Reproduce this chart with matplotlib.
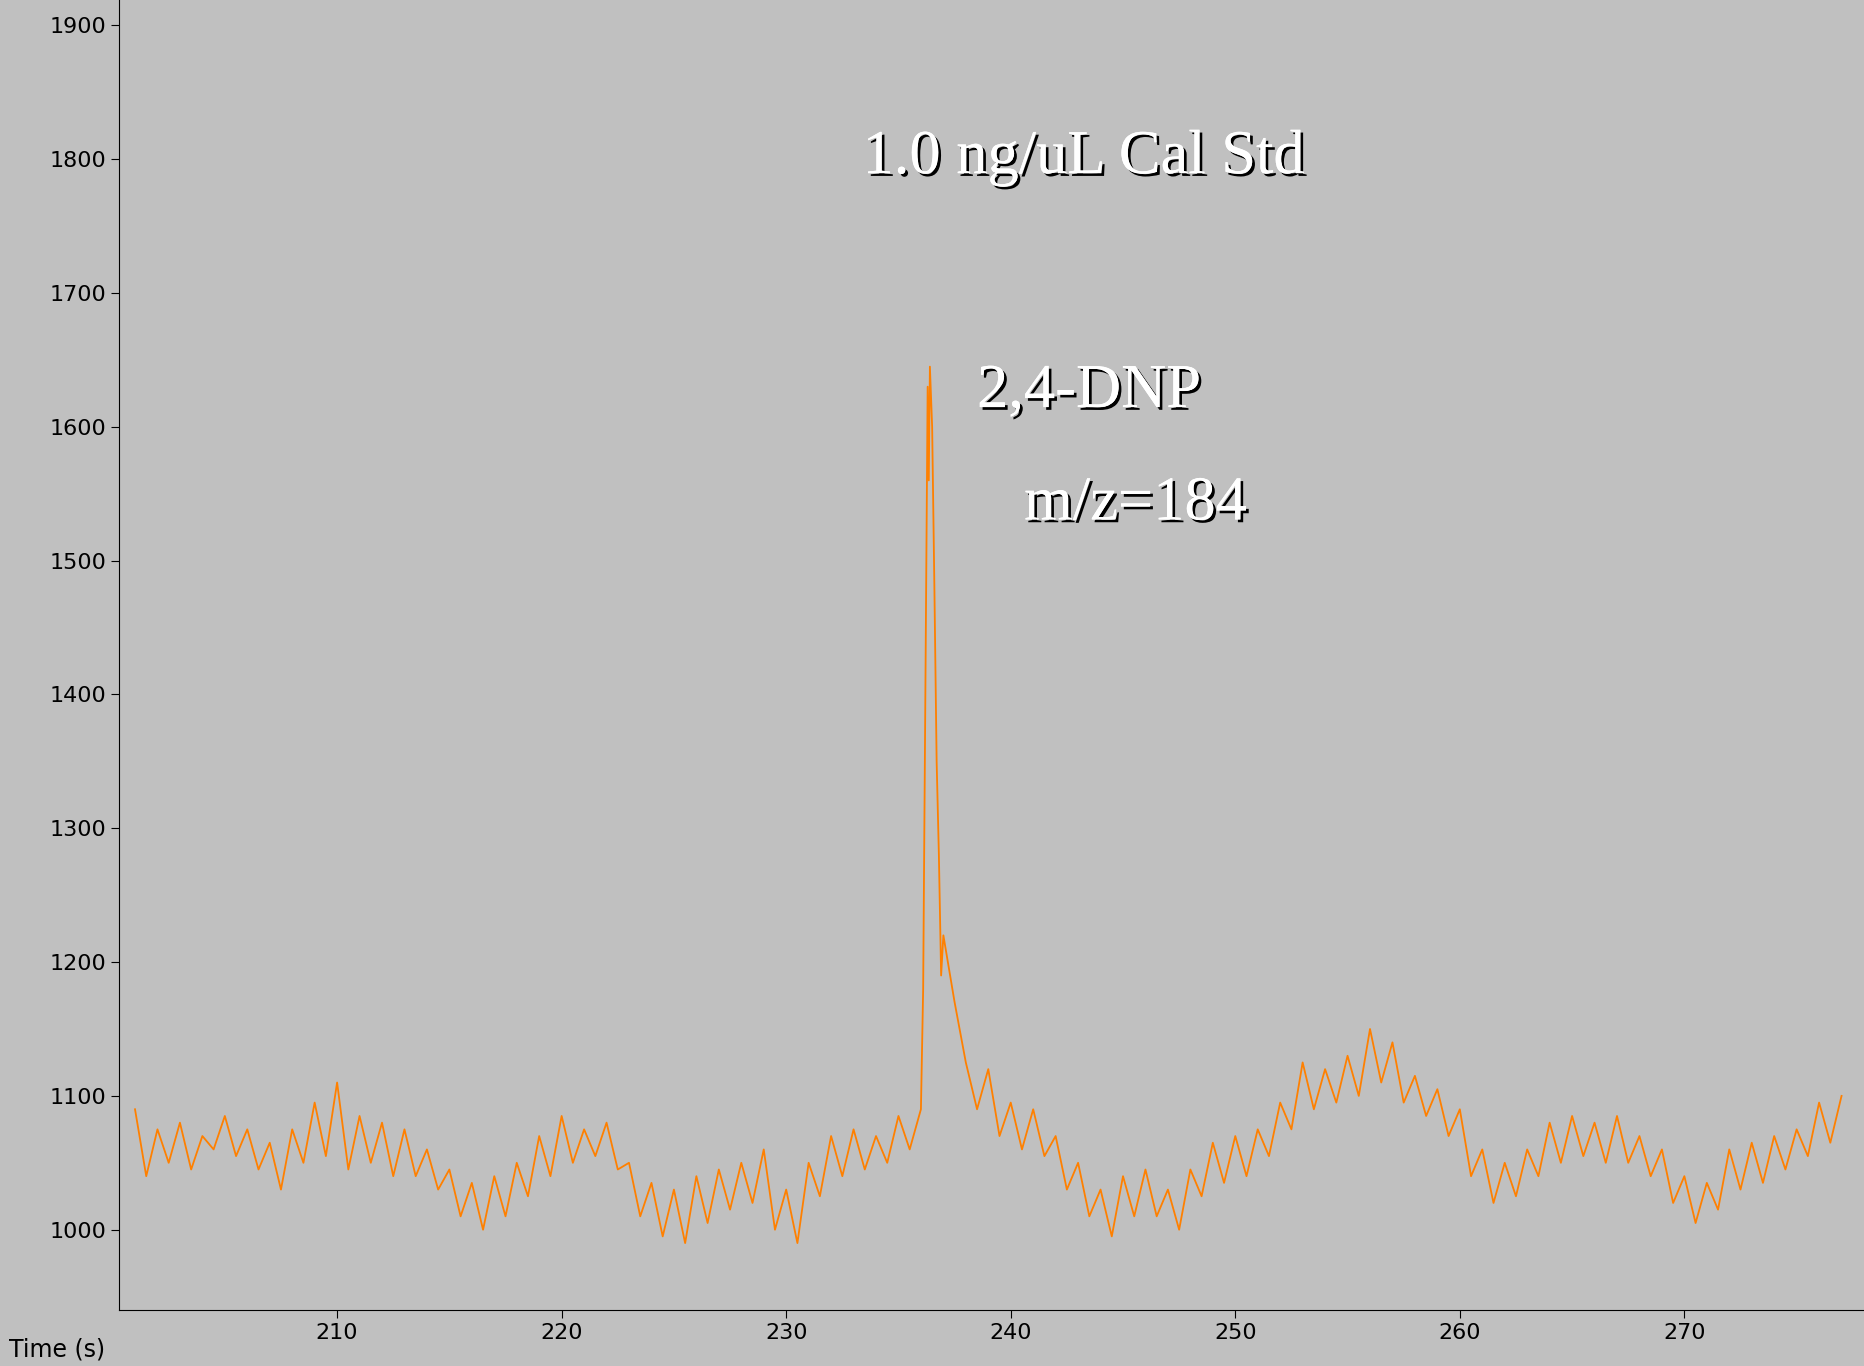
import numpy as np
import matplotlib.pyplot as plt
import matplotlib.patheffects as pe

# Signal sampled every 0.5 s from 201 s
t_start = 201.0
t_step = 0.5
signal = [
    1090, 1040, 1075, 1050, 1080, 1045, 1070, 1060, 1085, 1055,
    1075, 1045, 1065, 1030, 1075, 1050, 1095, 1055, 1110, 1045,
    1085, 1050, 1080, 1040, 1075, 1040, 1060, 1030, 1045, 1010,
    1035, 1000, 1040, 1010, 1050, 1025, 1070, 1040, 1085, 1050,
    1075, 1055, 1080, 1045, 1050, 1010, 1035, 995, 1030, 990,
    1040, 1005, 1045, 1015, 1050, 1020, 1060, 1000, 1030, 990,
    1050, 1025, 1070, 1040, 1075, 1045, 1070, 1050, 1085, 1060,
    1090, 1600, 1220, 1170, 1125, 1090, 1120, 1070, 1095, 1060,
    1090, 1055, 1070, 1030, 1050, 1010, 1030, 995, 1040, 1010,
    1045, 1010, 1030, 1000, 1045, 1025, 1065, 1035, 1070, 1040,
    1075, 1055, 1095, 1075, 1125, 1090, 1120, 1095, 1130, 1100,
    1150, 1110, 1140, 1095, 1115, 1085, 1105, 1070, 1090, 1040,
    1060, 1020, 1050, 1025, 1060, 1040, 1080, 1050, 1085, 1055,
    1080, 1050, 1085, 1050, 1070, 1040, 1060, 1020, 1040, 1005,
    1035, 1015, 1060, 1030, 1065, 1035, 1070, 1045, 1075, 1055,
    1095, 1065, 1100,
]
# extra points across the peak
peak_t = [236.1, 236.2, 236.3, 236.35, 236.4, 236.6, 236.7, 236.8, 236.9]
peak_v = [1180, 1400, 1630, 1560, 1645, 1480, 1350, 1280, 1190]

t = t_start + t_step * np.arange(len(signal))
t_all = np.concatenate([t, peak_t])
v_all = np.concatenate([signal, peak_v])
order = np.argsort(t_all)
t_all, v_all = t_all[order], v_all[order]

bg = '#c0c0c0'
fig = plt.figure(figsize=(18.64, 13.66), dpi=100, facecolor=bg)
ax = fig.add_axes([0.064, 0.041, 0.936, 0.959], facecolor=bg)
ax.plot(t_all, v_all, color='#ff8000', lw=1.3)
ax.set_xlim(200.3, 278)
ax.set_ylim(940, 1919)
ax.set_xticks(range(210, 271, 10))
ax.set_yticks(range(1000, 1901, 100))
ax.tick_params(labelsize=16, colors='black', length=6)
for s in ['top', 'right']:
    ax.spines[s].set_visible(False)
fig.text(0.005, 0.003, 'Time (s)', fontsize=17, va='bottom')

shadow = [pe.withSimplePatchShadow(offset=(2, -2), shadow_rgbFace='black', alpha=1), pe.Normal()]
labels = [(233.4, 1801, '1.0 ng/uL Cal Std'), (238.5, 1626, '2,4-DNP'), (240.6, 1542, 'm/z=184')]
for x, y, s in labels:
    ax.text(x, y, s, color='white', fontsize=45, family='Liberation Serif',
            va='center', ha='left', path_effects=shadow)

fig.savefig('out.png', dpi=100, facecolor=bg)
